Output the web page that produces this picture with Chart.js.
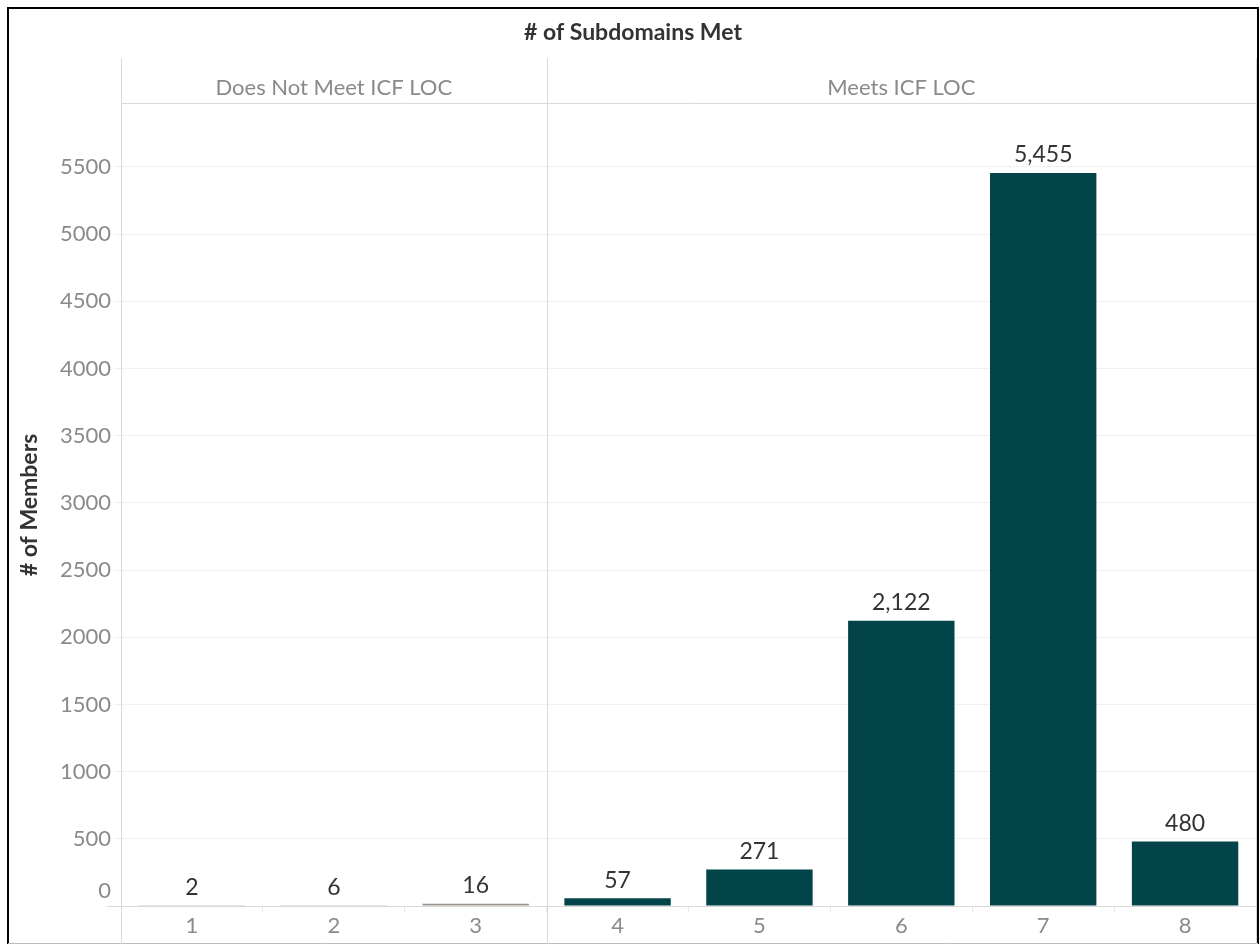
<!DOCTYPE html>
<html>
<head>
<meta charset="utf-8">
<script src="https://cdn.jsdelivr.net/npm/chart.js@4"></script>
<style>
  html, body { margin: 0; padding: 0; background: #fff; }
  #wrap { position: relative; width: 1259px; height: 944px; }
</style>
</head>
<body>
<div id="wrap"><canvas id="barChart" width="1259" height="944"></canvas></div>
<script>
// data
var subdomains = ['1', '2', '3', '4', '5', '6', '7', '8'];
var members = [2, 6, 16, 57, 271, 2122, 5455, 480];
var panels = ['Does Not Meet ICF LOC', 'Meets ICF LOC'];
var panelSize = [3, 5];
var yTicks = [0, 500, 1000, 1500, 2000, 2500, 3000, 3500, 4000, 4500, 5000, 5500];
var yMax = 5975;

var FONT = 'Lato, "Noto Sans", sans-serif';
var grey = '#9c948c';
var teal = '#03444a';
var barColors = [];
for (var i = 0; i < members.length; i++) barColors.push(i < panelSize[0] ? grey : teal);

var extras = {
	id: 'extras',
	afterDraw: function (chart) {
		var ctx = chart.ctx;
		var area = chart.chartArea;
		var x = chart.scales.x;
		ctx.save();

		// frame
		ctx.strokeStyle = '#000';
		ctx.lineWidth = 2;
		ctx.beginPath();
		ctx.moveTo(8, 944); ctx.lineTo(8, 8); ctx.lineTo(1258, 8); ctx.lineTo(1258, 944);
		ctx.stroke();
		ctx.strokeStyle = '#bbb';
		ctx.lineWidth = 1;
		ctx.beginPath(); ctx.moveTo(8, 943.5); ctx.lineTo(1258, 943.5); ctx.stroke();

		// panel dividers
		ctx.strokeStyle = '#d9d9d9';
		ctx.lineWidth = 1;
		var start = 0;
		var bounds = [area.left];
		for (var p = 0; p < panelSize.length; p++) {
			start += panelSize[p];
			bounds.push(p === panelSize.length - 1 ? area.right : (x.getPixelForValue(start - 1) + x.getPixelForValue(start)) / 2);
		}
		bounds.forEach(function (bx) {
			ctx.beginPath();
			ctx.moveTo(Math.round(bx) + 0.5, 58);
			ctx.lineTo(Math.round(bx) + 0.5, 944);
			ctx.stroke();
		});
		ctx.beginPath();
		ctx.moveTo(area.left, area.top + 0.5); ctx.lineTo(area.right, area.top + 0.5);
		ctx.moveTo(107, area.bottom + 0.5); ctx.lineTo(area.right, area.bottom + 0.5);
		ctx.stroke();

		// headers
		ctx.textAlign = 'center';
		ctx.textBaseline = 'middle';
		ctx.fillStyle = '#333';
		ctx.font = 'bold 23px ' + FONT;
		ctx.fillText('# of Subdomains Met', 633, 33);
		ctx.fillStyle = '#8a8a8a';
		ctx.font = '22px ' + FONT;
		for (var q = 0; q < panels.length; q++) {
			ctx.fillText(panels[q], (bounds[q] + bounds[q + 1]) / 2, 88);
		}

		// zero label sits a bit above its line
		ctx.textAlign = 'right';
		ctx.fillText('0', 111, chart.scales.y.getPixelForValue(0) - 15);

		// y title
		ctx.save();
		ctx.translate(30, 505);
		ctx.rotate(-Math.PI / 2);
		ctx.textAlign = 'center';
		ctx.fillStyle = '#333';
		ctx.font = 'bold 23px ' + FONT;
		ctx.fillText('# of Members', 0, 0);
		ctx.restore();

		// value labels
		ctx.textAlign = 'center';
		ctx.textBaseline = 'middle';
		ctx.fillStyle = '#333';
		ctx.font = '23px ' + FONT;
		chart.getDatasetMeta(0).data.forEach(function (bar, i) {
			ctx.fillText(members[i].toLocaleString('en-US'), bar.x, bar.y - 18);
		});
		ctx.restore();
	}
};

var ctxBar = document.getElementById('barChart').getContext('2d');
var barChart = new Chart(ctxBar, {
	type: 'bar',
	data: {
		labels: subdomains,
		datasets: [{
			label: '# of Members',
			data: members,
			backgroundColor: barColors,
			barPercentage: 0.75,
			categoryPercentage: 1
		}]
	},
	options: {
		responsive: false,
		animation: false,
		layout: { padding: { left: 0, top: 103, right: 3, bottom: 0 } },
		plugins: { legend: { display: false }, tooltip: { enabled: false } },
		scales: {
			x: {
				afterFit: function (s) { s.height = 38; },
				grid: { offset: true, drawOnChartArea: false, tickLength: 6, color: '#e6e6e6' },
				border: { display: false },
				ticks: { color: '#8a8a8a', font: { family: FONT, size: 22 }, padding: 1 }
			},
			y: {
				min: 0,
				max: yMax,
				afterFit: function (s) { s.width = 121; },
				afterBuildTicks: function (s) {
					s.ticks = yTicks.map(function (v) { return { value: v }; });
				},
				grid: { color: '#f0f0f0', tickLength: 7 },
				border: { display: false },
				ticks: {
					color: '#8a8a8a',
					font: { family: FONT, size: 22 },
					padding: 3,
					callback: function (v) { return v === 0 ? '' : String(v); }
				}
			}
		}
	},
	plugins: [extras]
});
</script>
</body>
</html>
